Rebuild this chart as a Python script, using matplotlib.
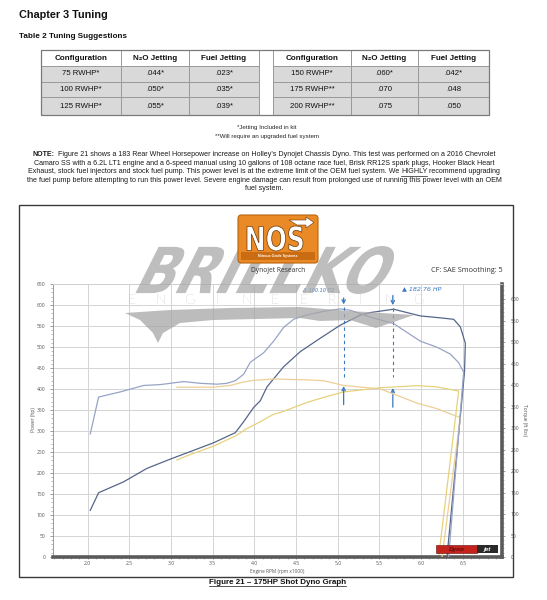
import matplotlib
matplotlib.use("Agg")
import matplotlib.pyplot as plt
import numpy as np
from matplotlib.patches import Rectangle, FancyBboxPatch, Polygon, PathPatch
from matplotlib.lines import Line2D
from matplotlib.path import Path
from matplotlib.textpath import TextPath
from matplotlib.font_manager import FontProperties
from matplotlib.ticker import MultipleLocator, FormatStrFormatter

# ---------------- tuning table ----------------
table_header = ["Configuration", "N\u2082O Jetting", "Fuel Jetting"]
left_config = ["75 RWHP*", "100 RWHP*", "125 RWHP*"]
left_n2o = [".044*", ".050*", ".055*"]
left_fuel = [".023*", ".035*", ".039*"]
right_config = ["150 RWHP*", "175 RWHP**", "200 RWHP**"]
right_n2o = [".060*", ".070", ".075"]
right_fuel = [".042*", ".048", ".050"]

# ---------------- dyno runs (rpm x1000) ----------------
nos_power_rpm = [2.03, 2.13, 2.43, 2.71, 2.99, 3.19, 3.51, 3.77, 3.87, 3.99, 4.07, 4.15,
                 4.35, 4.55, 4.79, 5.03, 5.27, 5.39, 5.67, 5.99, 6.20, 6.39, 6.47, 6.53,
                 6.52, 6.31]
nos_power = [111, 153, 179, 211, 233, 248, 272, 296, 322, 356, 372, 405,
             453, 489, 521, 552, 576, 582, 590, 574, 570, 566, 548, 509,
             440, 0]

nos_torque_rpm = [2.03, 2.13, 2.39, 2.67, 2.87, 2.99, 3.15, 3.35, 3.55, 3.67, 3.77, 3.87,
                  3.95, 4.11, 4.23, 4.35, 4.47, 4.63, 4.87, 5.03, 5.15, 5.39, 5.67, 5.99,
                  6.19, 6.35, 6.45, 6.51, 6.33]
nos_torque = [286, 372, 384, 399, 401, 404, 408, 404, 402, 404, 410, 425,
              453, 475, 502, 534, 553, 563, 573, 577, 574, 558, 543, 502,
              488, 472, 452, 430, 0]

base_power_rpm = [3.07, 3.23, 3.51, 3.77, 3.91, 4.07, 4.23, 4.31, 4.63, 4.83, 5.07, 5.51,
                  5.95, 6.19, 6.45, 6.21]
base_power = [231, 244, 264, 288, 306, 322, 340, 344, 368, 380, 393, 403,
              408, 405, 395, 0]

base_torque_rpm = [3.07, 3.51, 3.71, 3.87, 3.99, 4.23, 4.63, 4.83, 5.07, 5.51, 5.95, 6.19,
                   6.47, 6.25]
base_torque = [395, 395, 399, 407, 411, 414, 412, 410, 399, 391, 358, 345,
               324, 0]

gain_rpm = [5.07, 5.66]
gain_labels = ["\u0394  190.10 TQ", "\u25B2 182.76 HP"]

# ---------------- figure helpers ----------------
W, H = 547, 600
fig = plt.figure(figsize=(W / 100, H / 100), dpi=100)
fig.patch.set_facecolor("white")
renderer = fig.canvas.get_renderer()

PAGE = ["Liberation Sans", "DejaVu Sans"]
DYNO = ["Open Sans", "DejaVu Sans"]


def fx(x):
    return x / W


def fy(y):
    return 1 - y / H


def box(x0, y0, x1, y1, **kw):
    r = Rectangle((fx(x0), fy(y1)), fx(x1) - fx(x0), fy(y0) - fy(y1),
                  transform=fig.transFigure, **kw)
    fig.add_artist(r)
    return r


def text_width(s, **kw):
    t = fig.text(0, 0, s, **kw)
    w = t.get_window_extent(renderer=renderer).width
    t.remove()
    return w


def draw_runs(runs, cx, y, size, color="#1a1a1a"):
    """runs: (text, weight, underline, spaces_after)"""
    sp = text_width("a a", family=PAGE, size=size) - text_width("aa", family=PAGE, size=size)
    widths = [text_width(t, family=PAGE, size=size, weight=w) for t, w, u, n in runs]
    total = sum(widths) + sum(n for *_, n in runs) * sp
    x = cx - total / 2
    for (t, w, u, n), wd in zip(runs, widths):
        fig.text(fx(x), fy(y), t, family=PAGE, size=size, weight=w, color=color,
                 ha="left", va="center")
        if u:
            fig.add_artist(Line2D([fx(x), fx(x + wd)], [fy(y + size * 0.75), fy(y + size * 0.75)],
                                  transform=fig.transFigure, color=color, lw=0.5))
        x += wd + n * sp


def text_shape(s, x0, y_top, x1, y_bot, skew=0.0, family="DejaVu Sans", weight="bold", **kw):
    tp = TextPath((0, 0), s, size=1, prop=FontProperties(family=family, weight=weight))
    v = tp.vertices.copy()
    codes = tp.codes
    m = codes != Path.CLOSEPOLY
    umin, vmin = v[m].min(axis=0)
    umax, vmax = v[m].max(axis=0)
    un = (v[:, 0] - umin) / (umax - umin)
    vn = (v[:, 1] - vmin) / (vmax - vmin)
    px = x0 + un * (x1 - x0 - skew) + vn * skew
    py = y_bot - vn * (y_bot - y_top)
    verts = np.column_stack([px / W, 1 - py / H])
    p = PathPatch(Path(verts, codes), transform=fig.transFigure, **kw)
    fig.add_artist(p)
    return p


# ---------------- page heading ----------------
fig.text(fx(19), fy(15), "Chapter 3 Tuning", family=PAGE, weight="bold", size=7.8,
         ha="left", va="center", color="#111")
fig.text(fx(19), fy(36), "Table 2 Tuning Suggestions", family=PAGE, weight="bold", size=5.9,
         ha="left", va="center", color="#111")

# ---------------- tuning table ----------------
col_edges = [41, 121, 189, 259, 273, 351, 418, 489]
row_edges = [50, 66, 81.7, 97.3, 115]
grid_c = "#9a9a9a"
blocks = [(0, [left_config, left_n2o, left_fuel]), (4, [right_config, right_n2o, right_fuel])]
for start, cols in blocks:
    for j in range(3):
        x0, x1 = col_edges[start + j], col_edges[start + j + 1]
        cx = (x0 + x1) / 2
        box(x0, row_edges[0], x1, row_edges[1], facecolor="white", edgecolor=grid_c, lw=0.7)
        fig.text(fx(cx), fy((row_edges[0] + row_edges[1]) / 2), table_header[j], family=PAGE,
                 weight="bold", size=5.8, ha="center", va="center", color="#111")
        for i, val in enumerate(cols[j]):
            y0, y1 = row_edges[i + 1], row_edges[i + 2]
            box(x0, y0, x1, y1, facecolor="#d9d9d9", edgecolor=grid_c, lw=0.7)
            fig.text(fx(cx), fy((y0 + y1) / 2), val, family=PAGE, size=5.6,
                     ha="center", va="center", color="#111")
box(col_edges[3], row_edges[0], col_edges[4], row_edges[-1], facecolor="white",
    edgecolor=grid_c, lw=0.7)
box(col_edges[0], row_edges[0], col_edges[-1], row_edges[-1], fill=False,
    edgecolor="#7a7a7a", lw=0.9)

fig.text(fx(267), fy(128), "*Jetting Included in kit", family=PAGE, size=4.4,
         ha="center", va="center", color="#222")
fig.text(fx(267), fy(137), "**Will require an upgraded fuel system", family=PAGE, size=4.4,
         ha="center", va="center", color="#222")

# ---------------- note paragraph ----------------
note_runs = [
    [("NOTE:", "bold", False, 2),
     ("Figure 21 shows a 183 Rear Wheel Horsepower increase on Holley's Dynojet Chassis Dyno. "
      "This test was performed on a 2016 Chevrolet", "normal", False, 0)],
    [("Camaro SS with a 6.2L LT1 engine and a 6-speed manual using 10 gallons of 108 octane race "
      "fuel, Brisk RR12S spark plugs, Hooker Black Heart", "normal", False, 0)],
    [("Exhaust, stock fuel injectors and stock fuel pump. This power level is at the extreme limit "
      "of the OEM fuel system. We", "normal", False, 1),
     ("HIGHLY", "normal", True, 1),
     ("recommend upgrading", "normal", False, 0)],
    [("the fuel pump before attempting to run this power level. Severe engine damage can result "
      "from prolonged use of running this power level with an OEM", "normal", False, 0)],
    [("fuel system.", "normal", False, 0)],
]
note_y = [155, 163.3, 171.7, 180.3, 189]
for runs, y in zip(note_runs, note_y):
    draw_runs(runs, 264, y, 5.15)

# ---------------- dyno chart ----------------
box(19, 205, 513, 577, fill=False, edgecolor="#3a3a3a", lw=1.0)

ax = fig.add_axes([fx(53), fy(557), fx(502) - fx(53), fy(284) - fy(557)])
ax2 = ax.twinx()
ax.set_xlim(1.583, 6.97)
ax.set_ylim(0, 650)
ax2.set_ylim(0, 635)

ax.xaxis.set_major_locator(MultipleLocator(0.5))
ax.xaxis.set_minor_locator(MultipleLocator(0.1))
ax.xaxis.set_major_formatter(FormatStrFormatter("%.1f"))
ax.yaxis.set_major_locator(MultipleLocator(50))
ax.yaxis.set_minor_locator(MultipleLocator(10))
ax2.yaxis.set_major_locator(MultipleLocator(50))
ax2.yaxis.set_minor_locator(MultipleLocator(10))
ax.grid(True, which="major", color="#d4d4d4", lw=0.7)
ax.set_axisbelow(True)

for a in (ax, ax2):
    a.spines["top"].set_color("#cfcfcf")
    a.spines["top"].set_linewidth(0.6)
ax.spines["left"].set_color("#9a9a9a")
ax.spines["left"].set_linewidth(0.7)
ax.spines["bottom"].set_color("#5a5a5a")
ax.spines["bottom"].set_linewidth(2.6)
ax.spines["right"].set_visible(False)
ax2.spines["left"].set_visible(False)
ax2.spines["bottom"].set_visible(False)
ax2.spines["right"].set_color("#5a5a5a")
ax2.spines["right"].set_linewidth(2.6)

tick_kw = dict(labelsize=3.6, labelcolor="#555", color="#777", width=0.5)
ax.tick_params(axis="y", which="major", length=2.5, pad=3, **tick_kw)
ax.tick_params(axis="x", which="major", length=1.6, pad=1.2, **tick_kw)
ax.tick_params(axis="both", which="minor", length=1.2, color="#888", width=0.4)
ax2.tick_params(axis="y", which="major", length=2.5, pad=4, **tick_kw)
ax2.tick_params(axis="y", which="minor", length=1.4, color="#888", width=0.4)
for lab in ax.get_xticklabels() + ax.get_yticklabels() + ax2.get_yticklabels():
    lab.set_family(DYNO)

ax.plot(base_power_rpm, base_power, color="#e6d27a", lw=0.9)
ax.plot(nos_power_rpm, nos_power, color="#56668a", lw=0.9)
ax2.plot(base_torque_rpm, base_torque, color="#edcf95", lw=0.9)
ax2.plot(nos_torque_rpm, nos_torque, color="#98a4c6", lw=0.9)

# handwritten gain markers
ink = "#3a78c0"
arrow = dict(arrowstyle="->", color=ink, lw=0.9, mutation_scale=6)
x1, x2 = gain_rpm
ax2.annotate("", xy=(x1, 581), xytext=(x1, 609), arrowprops=arrow)
ax2.plot([x1, x1], [581, 415], color=ink, lw=0.8, ls=(0, (3, 3)))
ax2.annotate("", xy=(x1, 404), xytext=(x1, 348), arrowprops=arrow)
ax.annotate("", xy=(x2, 593), xytext=(x2, 629), arrowprops=arrow)
ax.plot([x2, x2], [593, 429], color=ink, lw=0.8, ls=(0, (3, 3)))
ax.annotate("", xy=(x2, 409), xytext=(x2, 350), arrowprops=arrow)
ax.text(4.57, 636, gain_labels[0], color=ink, size=3.6, style="italic", va="center", ha="left",
        family=["DejaVu Sans"], zorder=10)
ax.text(5.77, 638, gain_labels[1], color=ink, size=4.6, style="italic", va="center", ha="left",
        family=["DejaVu Sans"], zorder=10)

# axis titles
fig.text(fx(33), fy(420), "Power (hp)", rotation=90, family=DYNO, size=3.6, color="#555",
         ha="center", va="center")
fig.text(fx(524), fy(420), "Torque (ft lbs)", rotation=270, family=DYNO, size=3.6, color="#555",
         ha="center", va="center")
fig.text(fx(277), fy(571.5), "Engine RPM (rpm x1000)", family=DYNO, size=3.4, color="#555",
         ha="center", va="center")

# watermark
text_shape("BRILLKO", 135, 246, 402, 294, skew=24, facecolor="#a8a8a8", edgecolor="none",
           alpha=0.75, zorder=5)
swoosh = [(125, 313), (170, 310), (230, 308), (300, 307), (350, 311), (414, 315), (376, 328),
          (350, 320), (320, 321), (300, 318), (213, 320), (180, 323), (163, 333), (158, 343),
          (153, 333), (140, 320)]
fig.add_artist(Polygon([(fx(x), fy(y)) for x, y in swoosh], closed=True,
                       transform=fig.transFigure, facecolor="#a6a6a6", edgecolor="none",
                       alpha=0.75, zorder=5))
for i, ch in enumerate("ENGINEERING"):
    fig.text(fx(131.7 + i * 28.6), fy(300.5), ch, family=["Lato", "DejaVu Sans"], weight="light",
             size=10, color="#9c9c9c", ha="center", va="center", zorder=5)

# chart header texts
fig.text(fx(278), fy(271), "Dynojet Research", family=DYNO, size=4.8, color="#333",
         ha="center", va="center", zorder=9)
fig.text(fx(503), fy(271), "CF: SAE Smoothing: 5", family=DYNO, size=5.2, color="#333",
         ha="right", va="center", zorder=9)

# NOS badge
fig.add_artist(FancyBboxPatch((fx(238), fy(263)), fx(318) - fx(238), fy(215) - fy(263),
                              boxstyle="round,pad=0,rounding_size=0.006",
                              transform=fig.transFigure, facecolor="#ea8a26",
                              edgecolor="#b9650f", lw=0.8, zorder=6))
box(241, 252, 315, 260, facecolor="#c96c12", edgecolor="none", zorder=6)
text_shape("NOS", 247, 226, 303, 251, facecolor="white", edgecolor="#6a3608", lw=0.5, zorder=7)
arrow_pts = [(289, 220), (306, 220), (306, 217), (314, 222.5), (306, 228), (306, 225), (297, 225)]
fig.add_artist(Polygon([(fx(x), fy(y)) for x, y in arrow_pts], closed=True,
                       transform=fig.transFigure, facecolor="white", edgecolor="#6a3608",
                       lw=0.4, zorder=7))
fig.text(fx(278), fy(256), "Nitrous Oxide Systems", family=PAGE, weight="bold", size=2.6,
         color="white", ha="center", va="center", zorder=8)

# Dynojet badge
box(436, 545, 477, 553, facecolor="#c3231b", edgecolor="#5a0a0a", lw=0.4, zorder=6)
box(477, 545, 498, 553, facecolor="#2a2a2a", edgecolor="none", zorder=6)
fig.text(fx(456.5), fy(549), "Dyno", family=PAGE, weight="bold", style="italic", size=4.6,
         color="#5a0c0c", ha="center", va="center", zorder=7)
fig.text(fx(487.5), fy(549), "jet", family=PAGE, weight="bold", style="italic", size=4.6,
         color="white", ha="center", va="center", zorder=7)

# caption
cap = "Figure 21 \u2013 175HP Shot Dyno Graph"
draw_runs([(cap, "bold", True, 0)], 277.5, 582, 5.8, color="#111")

fig.savefig("out.png", dpi=100, facecolor="white")
